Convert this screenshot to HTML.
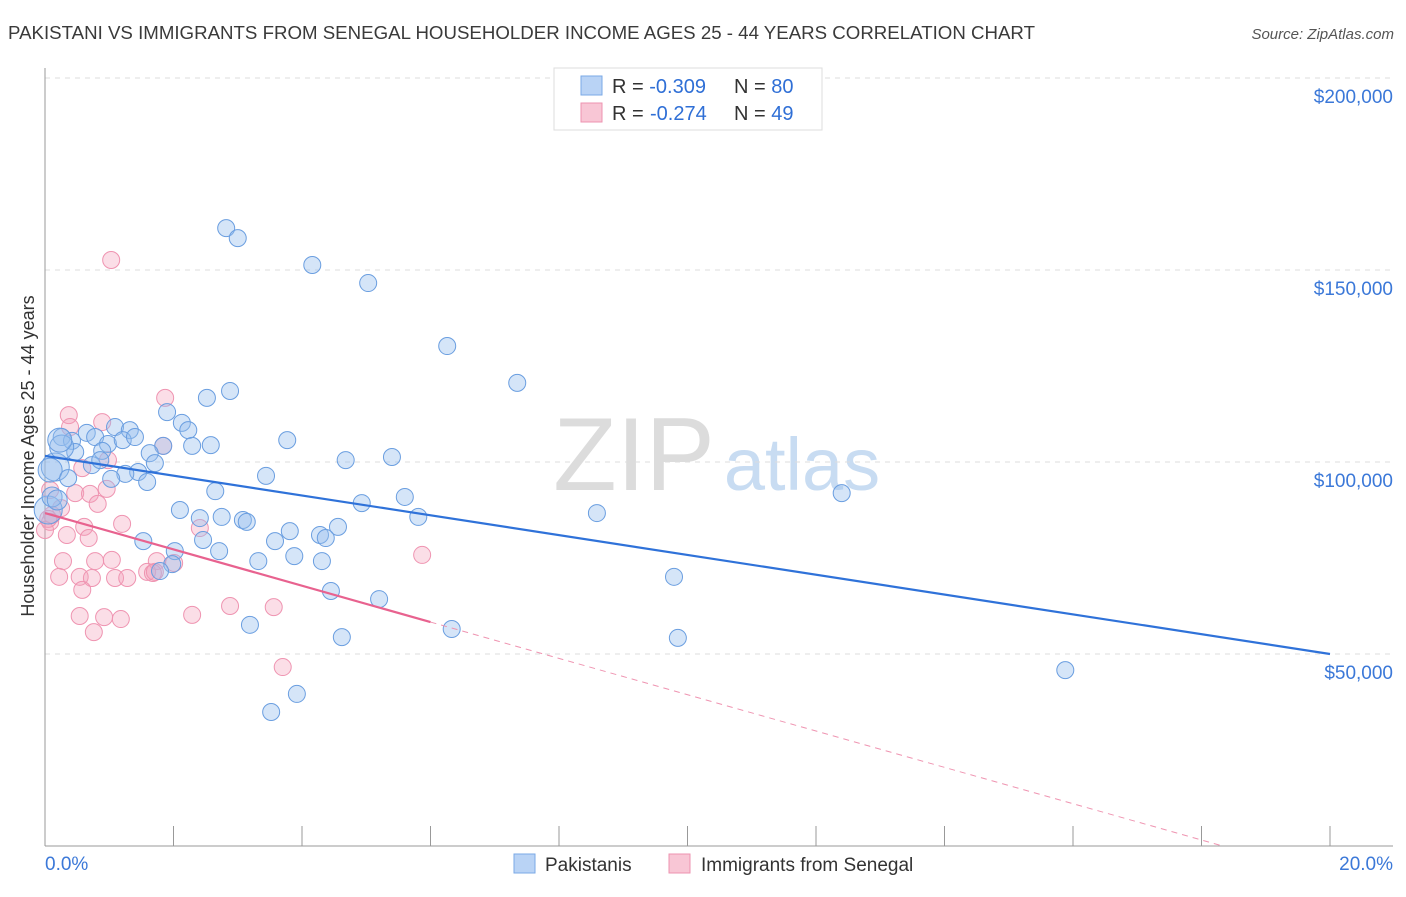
<!DOCTYPE html>
<html><head><meta charset="utf-8"><style>
body{margin:0;background:#fff;font-family:"Liberation Sans",sans-serif}
svg text{font-family:"Liberation Sans",sans-serif}
</style></head><body>
<svg id="chart" width="1406" height="892" viewBox="0 0 1406 892">
<text x="8" y="39" font-size="18.5" fill="#3a3a3a" textLength="1027" lengthAdjust="spacingAndGlyphs">PAKISTANI VS IMMIGRANTS FROM SENEGAL HOUSEHOLDER INCOME AGES 25 - 44 YEARS CORRELATION CHART</text>
<text x="1394" y="39" font-size="15" fill="#555" text-anchor="end" font-style="italic">Source: ZipAtlas.com</text>
<g>
<text x="634" y="490" font-size="104" fill="#dcdcdc" text-anchor="middle" font-family="Liberation Serif, serif">ZIP</text>
<text x="802" y="490" font-size="74" fill="#c8dcf2" text-anchor="middle">atlas</text>
</g>
<g id="grid"></g><g id="axes"></g><g id="marks"></g>
<text transform="translate(34,456) rotate(-90)" font-size="18" fill="#333" text-anchor="middle">Householder Income Ages 25 - 44 years</text>
<g>
<rect x="554" y="68" width="268" height="62" fill="#fff" stroke="#ddd"/>
<rect x="581" y="76" width="21" height="19" fill="#b9d3f5" stroke="#7aa8e6"/>
<text x="612" y="93" font-size="20" fill="#333">R = <tspan fill="#2f6fd6">-0.309</tspan><tspan x="734">N = </tspan><tspan fill="#2f6fd6">80</tspan></text>
<rect x="581" y="103" width="21" height="19" fill="#f8c6d5" stroke="#ee93b0"/>
<text x="612" y="120" font-size="20" fill="#333">R = <tspan fill="#2f6fd6" x="650">-0.274</tspan><tspan x="734">N = </tspan><tspan fill="#2f6fd6">49</tspan></text>
</g>
<g>
<rect x="514" y="854" width="21" height="19" fill="#b9d3f5" stroke="#7aa8e6"/>
<text x="545" y="871" font-size="19" fill="#333">Pakistanis</text>
<rect x="669" y="854" width="21" height="19" fill="#f8c6d5" stroke="#ee93b0"/>
<text x="701" y="871" font-size="19" fill="#333">Immigrants from Senegal</text>
</g>
</svg>
<script>
const blueX=[2.82,3.00,4.16,5.03,6.26,7.35,2.88,2.52,1.90,2.13,2.23,1.09,1.32,0.26,0.42,0.65,0.78,0.98,1.21,1.40,1.84,2.29,2.58,3.77,4.68,5.40,0.89,0.47,0.73,0.86,1.63,1.71,1.45,1.25,1.03,1.59,3.44,5.60,12.40,2.65,4.93,5.81,8.59,2.10,2.41,2.75,3.08,3.14,3.81,4.28,4.56,4.37,3.58,1.53,2.46,2.71,2.02,3.32,3.88,4.31,1.98,1.79,9.79,4.45,5.20,3.19,4.62,6.33,9.85,15.88,3.92,3.52,0.16,0.26,0.05,0.11,0.08,0.36,0.23,0.19];
const blueY=[160.9,158.3,151.3,146.6,130.2,120.6,118.5,116.7,113.0,110.2,108.3,109.1,108.3,106.5,105.5,107.6,106.5,104.7,105.7,106.5,104.2,104.2,104.4,105.7,100.5,101.3,102.9,102.6,99.2,100.5,102.3,99.7,97.4,96.9,95.6,94.8,96.4,90.9,91.9,92.4,89.3,85.7,86.7,87.5,85.4,85.7,84.9,84.4,82.0,81.0,83.1,80.2,79.4,79.4,79.7,76.8,76.8,74.2,75.5,74.2,73.4,71.6,70.1,66.4,64.3,57.6,54.4,56.5,54.2,45.8,39.6,34.9,98.7,103.9,87.5,90.9,97.9,95.8,105.7,90.1];
const blueR=[8.5,8.5,8.5,8.5,8.5,8.5,8.5,8.5,8.5,8.5,8.5,8.5,8.5,8.5,8.5,8.5,8.5,8.5,8.5,8.5,8.5,8.5,8.5,8.5,8.5,8.5,8.5,8.5,8.5,8.5,8.5,8.5,8.5,8.5,8.5,8.5,8.5,8.5,8.5,8.5,8.5,8.5,8.5,8.5,8.5,8.5,8.5,8.5,8.5,8.5,8.5,8.5,8.5,8.5,8.5,8.5,8.5,8.5,8.5,8.5,8.5,8.5,8.5,8.5,8.5,8.5,8.5,8.5,8.5,8.5,8.5,8.5,14,12,14,10,12,8.5,12,10];
const pinkX=[1.03,1.87,0.37,0.89,0.39,1.84,0.98,0.58,0.47,0.70,0.96,0.82,0.25,0.11,0.08,0.05,1.20,0.61,0.68,0.34,0.28,0.78,1.04,1.74,2.01,0.22,0.54,0.73,1.09,1.28,1.59,1.68,0.58,0.54,0.92,1.18,2.29,2.88,3.56,0.76,3.70,5.87,2.41,1.71,0.0,0.08];
const pinkY=[152.6,116.7,112.2,110.4,109.1,104.2,100.5,98.4,91.9,91.7,93.0,89.1,88.0,86.2,84.4,85.2,83.9,83.1,80.2,81.0,74.2,74.2,74.5,74.2,73.7,70.1,70.1,69.8,69.8,69.8,71.4,71.1,66.7,59.9,59.6,59.1,60.2,62.5,62.2,55.7,46.6,75.8,82.8,71.4,82.3,92.7];
const blueTrend=[101.6,50.0]; // y at x=0, y at x=20
const pinkTrend=[86.7,-4.73]; // intercept, slope
const pinkSolidEnd=6.0;
const yTicks=[50,100,150,200];
const yTickLabels=["$50,000","$100,000","$150,000","$200,000"];
const xTicks=[0,2,4,6,8,10,12,14,16,18,20];

const NS="http://www.w3.org/2000/svg";
const sx=v=>45+v*64.25;
const sy=v=>846-v*3.84;
function mk(tag,attrs,parent){const e=document.createElementNS(NS,tag);for(const k in attrs)e.setAttribute(k,attrs[k]);parent.appendChild(e);return e;}
const grid=document.getElementById('grid'),axes=document.getElementById('axes'),marks=document.getElementById('marks');
yTicks.forEach((t,i)=>{
  const l=mk('line',{x1:45,x2:1393,y1:sy(t),y2:sy(t),stroke:'#ddd','stroke-dasharray':'5,5'},grid);
  
  
  const tx=mk('text',{x:1393,y:sy(t)+25,'font-size':19,fill:'#3b78d8','text-anchor':'end'},grid);
  tx.textContent=yTickLabels[i];
  
  
});
const ya=mk('line',{x1:45,x2:45,y1:68,y2:846,stroke:'#999'},axes);


const xa=mk('line',{x1:45,x2:1393,y1:846,y2:846,stroke:'#999'},axes);


xTicks.forEach(t=>{
  const l=mk('line',{x1:sx(t),x2:sx(t),y1:826,y2:846,stroke:'#999'},axes);
  
  
});
[[0,'0.0%','start',45],[20,'20.0%','end',1393]].forEach(d=>{
  const tx=mk('text',{x:d[3],y:870,'font-size':19,fill:'#3b78d8','text-anchor':d[2]},axes);
  tx.textContent=d[1];
  
  
});
pinkX.forEach((x,i)=>{
  const c=mk('circle',{cx:sx(x),cy:sy(pinkY[i]),r:8.5,fill:'rgba(244,160,185,0.35)',stroke:'#ef94b1','stroke-width':1},marks);
  
  
});
blueX.forEach((x,i)=>{
  const c=mk('circle',{cx:sx(x),cy:sy(blueY[i]),r:blueR[i],fill:'rgba(150,190,238,0.4)',stroke:'#6a9ee0','stroke-width':1},marks);
  
  
});
const bl=mk('line',{x1:sx(0),y1:sy(blueTrend[0]),x2:sx(20),y2:sy(blueTrend[1]),stroke:'#2f72d9','stroke-width':2.2},marks);


const pe=pinkTrend[0]+pinkTrend[1]*pinkSolidEnd;
const pl=mk('line',{x1:sx(0),y1:sy(pinkTrend[0]),x2:sx(pinkSolidEnd),y2:sy(pe),stroke:'#e8628f','stroke-width':2.2},marks);


const xz=-pinkTrend[0]/pinkTrend[1];
const pd=mk('line',{x1:sx(pinkSolidEnd),y1:sy(pe),x2:sx(xz),y2:sy(0),stroke:'#ef94b1','stroke-width':1,'stroke-dasharray':'6,5'},marks);


</script>
</body></html>
